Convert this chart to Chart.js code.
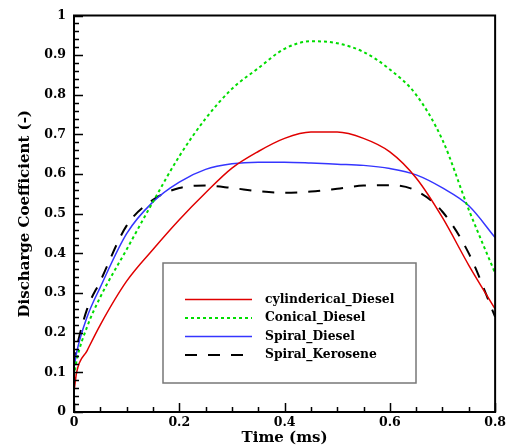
<!DOCTYPE html>
<html>
<head>
<meta charset="utf-8">
<script src="https://cdn.jsdelivr.net/npm/chart.js@4.4.1/dist/chart.umd.min.js"></script>
<style>
  html, body { margin: 0; padding: 0; background: #fff; }
  #wrap { width: 509px; height: 448px; }
</style>
</head>
<body>
<div id="wrap"><canvas id="cd-chart" width="509" height="448"></canvas></div>
<script>
// time (ms)
const times = [0, 0.005, 0.025, 0.05, 0.1, 0.15, 0.2, 0.25, 0.3, 0.35, 0.4, 0.45, 0.5, 0.55, 0.6, 0.65, 0.7, 0.75, 0.8];
const cylDiesel = [0.05, 0.10, 0.155, 0.22, 0.33, 0.41, 0.485, 0.553, 0.615, 0.657, 0.69, 0.706, 0.706, 0.69, 0.656, 0.59, 0.49, 0.37, 0.26];
const conDiesel = [0.09, 0.13, 0.215, 0.29, 0.41, 0.53, 0.645, 0.74, 0.815, 0.867, 0.916, 0.935, 0.93, 0.908, 0.864, 0.8, 0.686, 0.51, 0.35];
const spiDiesel = [0.11, 0.15, 0.24, 0.315, 0.45, 0.53, 0.58, 0.612, 0.626, 0.63, 0.63, 0.628, 0.625, 0.622, 0.614, 0.598, 0.565, 0.52, 0.44];
const spiKerosene = [0.12, 0.16, 0.26, 0.33, 0.47, 0.535, 0.565, 0.571, 0.565, 0.557, 0.553, 0.556, 0.563, 0.571, 0.572, 0.558, 0.505, 0.4, 0.24];
const seriesLabels = ['cylinderical_Diesel', 'Conical_Diesel', 'Spiral_Diesel', 'Spiral_Kerosene'];
const xTicks = [0, 0.2, 0.4, 0.6, 0.8];
const yTicks = [0, 0.1, 0.2, 0.3, 0.4, 0.5, 0.6, 0.7, 0.8, 0.9, 1];

const FONT = '"DejaVu Serif", serif';

function pts(vals) {
    return times.map((t, i) => ({ x: t, y: vals[i] }));
}

// inward ticks, frame, axis titles and legend box
const decor = {
    id: 'decor',
    afterDraw(chart) {
        const ctx = chart.ctx;
        const a = chart.chartArea;
        const xs = chart.scales.x, ys = chart.scales.y;
        ctx.save();
        ctx.strokeStyle = '#000';
        ctx.lineWidth = 1.5;
        ctx.beginPath();
        for (let i = 0; i <= 50; i++) {
            const v = i * 0.02;
            const y = Math.round(ys.getPixelForValue(v)) + 0.5;
            const len = i % 5 === 0 ? 9 : 5;
            ctx.moveTo(a.left, y);
            ctx.lineTo(a.left + len, y);
        }
        for (let i = 0; i <= 16; i++) {
            const v = i * 0.05;
            const x = Math.round(xs.getPixelForValue(v)) + 0.5;
            const len = i % 4 === 0 ? 9 : 5;
            ctx.moveTo(x, a.bottom);
            ctx.lineTo(x, a.bottom - len);
        }
        ctx.stroke();
        ctx.lineWidth = 2;
        ctx.strokeRect(a.left, a.top, a.right - a.left, a.bottom - a.top);

        // axis titles
        ctx.fillStyle = '#000';
        ctx.font = 'bold 15px ' + FONT;
        ctx.textAlign = 'center';
        ctx.textBaseline = 'middle';
        ctx.fillText('Time (ms)', (a.left + a.right) / 2, 438);
        ctx.save();
        ctx.translate(25, (a.top + a.bottom) / 2);
        ctx.rotate(-Math.PI / 2);
        ctx.fillText('Discharge Coefficient (-)', 0, 0);
        ctx.restore();

        // legend
        ctx.fillStyle = '#fff';
        ctx.fillRect(163, 263, 253, 120);
        ctx.strokeStyle = '#777';
        ctx.lineWidth = 1.5;
        ctx.strokeRect(163, 263, 253, 120);
        const rows = [299.5, 318, 336.5, 355];
        ctx.font = 'bold 12.3px ' + FONT;
        ctx.textAlign = 'left';
        chart.data.datasets.forEach((ds, i) => {
            ctx.strokeStyle = ds.borderColor;
            ctx.lineWidth = ds.borderWidth;
            ctx.setLineDash(ds.borderDash || []);
            ctx.beginPath();
            ctx.moveTo(185, rows[i]);
            ctx.lineTo(252, rows[i]);
            ctx.stroke();
            ctx.setLineDash([]);
            ctx.fillStyle = '#000';
            ctx.fillText(ds.label, 265, rows[i]);
        });
        ctx.restore();
    }
};

const chart = new Chart(document.getElementById('cd-chart'), {
    type: 'line',
    data: {
        datasets: [
            { label: seriesLabels[0], data: pts(cylDiesel), borderColor: '#e00000', borderWidth: 1.5 },
            { label: seriesLabels[1], data: pts(conDiesel), borderColor: '#00dd00', borderWidth: 2, borderDash: [3, 3] },
            { label: seriesLabels[2], data: pts(spiDiesel), borderColor: '#3535ff', borderWidth: 1.5 },
            { label: seriesLabels[3], data: pts(spiKerosene), borderColor: '#000', borderWidth: 2, borderDash: [12, 11] }
        ]
    },
    options: {
        responsive: false,
        animation: false,
        events: [],
        layout: { padding: { top: 15, right: 11, left: 0, bottom: 0 } },
        elements: {
            point: { radius: 0 },
            line: { cubicInterpolationMode: 'monotone', fill: false }
        },
        plugins: { legend: { display: false }, tooltip: { enabled: false } },
        scales: {
            x: {
                type: 'linear',
                min: 0, max: 0.8,
                afterBuildTicks: s => { s.ticks = xTicks.map(v => ({ value: v })); },
                afterFit: s => { s.height = 36; },
                grid: { display: false, drawTicks: false },
                border: { display: false },
                ticks: {
                    color: '#000', padding: 3,
                    font: { family: FONT, size: 12.5, weight: 'bold' },
                    callback: v => String(Math.round(v * 10) / 10)
                }
            },
            y: {
                min: 0, max: 1,
                afterBuildTicks: s => { s.ticks = yTicks.map(v => ({ value: v })); },
                afterFit: s => { s.width = 74; },
                grid: { display: false, drawTicks: false },
                border: { display: false },
                ticks: {
                    color: '#000', padding: 8,
                    font: { family: FONT, size: 12.5, weight: 'bold' },
                    callback: v => String(Math.round(v * 10) / 10)
                }
            }
        }
    },
    plugins: [decor]
});
</script>
</body>
</html>
